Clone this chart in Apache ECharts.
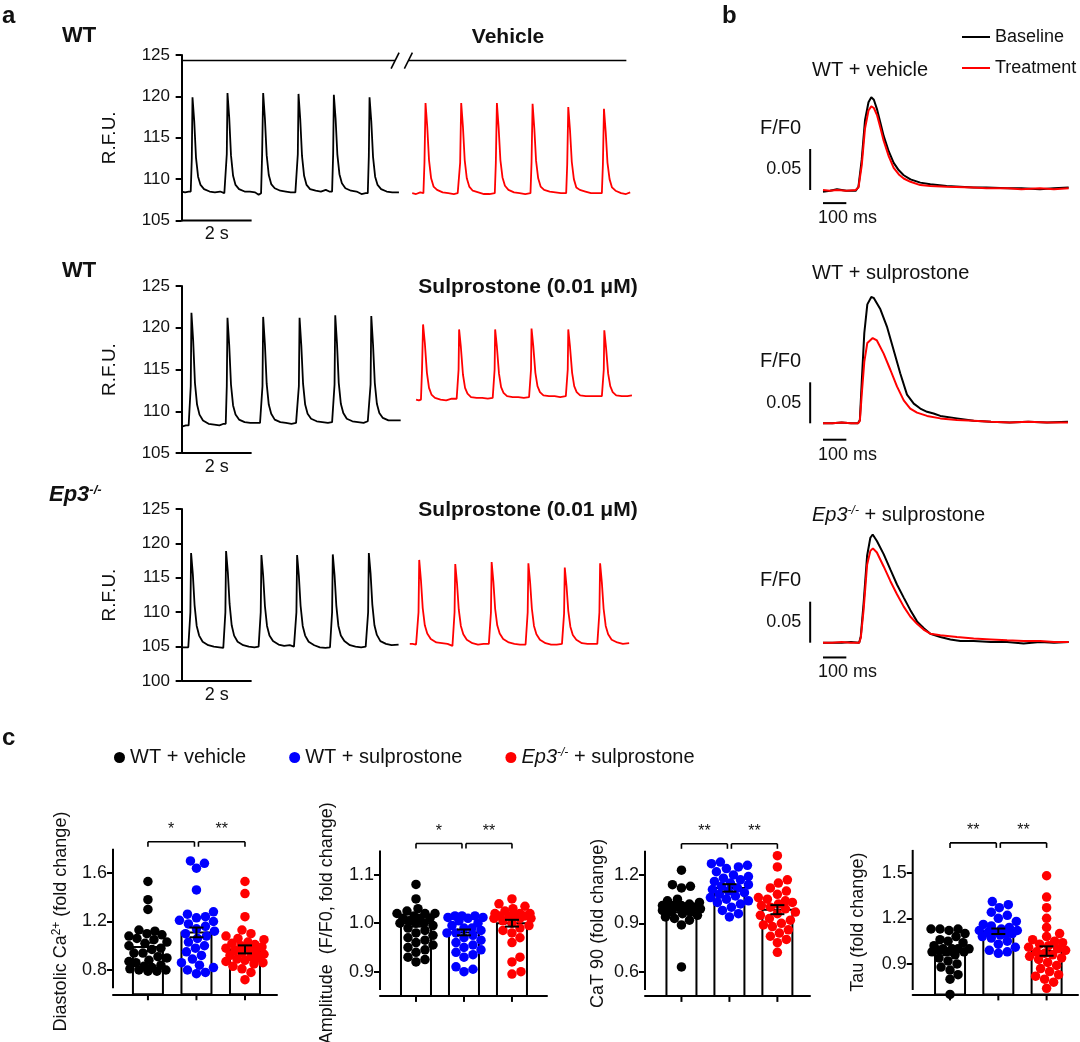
<!DOCTYPE html>
<html><head><meta charset="utf-8">
<script src="https://cdn.jsdelivr.net/npm/echarts@6.0.0/dist/echarts.min.js"></script>
<style>html,body{margin:0;padding:0;background:#fff}#c{width:1080px;height:1042px}</style>
</head><body><div id="c"></div><script>
// ---------- Panel a: raw traces [time s, R.F.U.] ----------
const A1K=[[0.00,108.5],[0.10,108.4],[0.20,108.5],[0.26,108.5],[0.29,112.5],[0.31,119.9],[0.36,117.0],[0.41,112.6],[0.47,110.3],[0.54,109.3],[0.64,108.8],[0.80,108.5],[0.95,108.4],[1.10,108.5],[1.22,108.3],[1.26,108.3],[1.29,113.0],[1.31,120.4],[1.36,117.4],[1.41,112.9],[1.47,110.4],[1.54,109.3],[1.64,108.8],[1.80,108.5],[1.95,108.5],[2.10,108.4],[2.20,108.1],[2.27,108.3],[2.30,113.0],[2.33,120.4],[2.38,117.3],[2.43,112.9],[2.49,110.5],[2.56,109.4],[2.66,108.9],[2.82,108.6],[2.98,108.5],[3.12,108.4],[3.25,108.4],[3.29,108.5],[3.32,113.0],[3.34,120.3],[3.39,117.2],[3.44,112.8],[3.50,110.4],[3.57,109.3],[3.67,108.8],[3.83,108.6],[3.98,108.5],[4.12,108.7],[4.22,108.5],[4.30,108.5],[4.33,113.0],[4.35,120.2],[4.40,117.3],[4.45,113.0],[4.51,110.6],[4.58,109.5],[4.68,108.9],[4.84,108.6],[5.00,108.5],[5.14,108.2],[5.26,108.3],[5.32,108.3],[5.35,112.8],[5.37,119.9],[5.42,117.0],[5.47,112.7],[5.53,110.3],[5.60,109.3],[5.70,108.8],[5.86,108.5],[6.02,108.4],[6.21,108.4]];
const A1R=[[6.59,108.3],[6.70,108.2],[6.82,108.4],[6.91,108.3],[6.94,112.0],[6.97,119.2],[7.02,116.3],[7.07,112.3],[7.13,110.1],[7.20,109.1],[7.30,108.7],[7.46,108.4],[7.62,108.3],[7.78,108.2],[7.89,108.3],[7.93,108.3],[7.96,112.0],[7.99,119.2],[8.04,116.3],[8.09,112.3],[8.15,110.1],[8.22,109.1],[8.32,108.6],[8.48,108.4],[8.64,108.2],[8.80,108.2],[8.95,108.3],[8.98,112.0],[9.01,119.2],[9.06,116.2],[9.11,112.3],[9.17,110.2],[9.24,109.2],[9.34,108.7],[9.50,108.4],[9.66,108.3],[9.82,108.2],[9.97,108.3],[10.00,112.0],[10.03,119.1],[10.08,116.1],[10.13,112.2],[10.19,110.1],[10.26,109.1],[10.36,108.7],[10.52,108.5],[10.68,108.4],[10.84,108.3],[10.99,108.3],[11.02,111.8],[11.05,118.7],[11.10,115.9],[11.15,112.1],[11.21,110.0],[11.28,109.0],[11.38,108.7],[11.54,108.5],[11.70,108.3],[11.86,108.3],[12.01,108.3],[12.04,111.8],[12.07,118.5],[12.12,115.7],[12.17,112.0],[12.23,110.0],[12.30,109.0],[12.40,108.6],[12.56,108.3],[12.70,108.2],[12.82,108.4]];
const A2K=[[0.03,108.2],[0.12,108.3],[0.20,108.3],[0.24,108.3],[0.26,113.0],[0.28,121.8],[0.33,118.4],[0.38,113.4],[0.44,110.8],[0.51,109.6],[0.61,108.9],[0.77,108.5],[0.93,108.4],[1.08,108.3],[1.20,108.5],[1.26,108.5],[1.29,113.0],[1.31,121.2],[1.36,117.9],[1.41,113.2],[1.47,110.7],[1.54,109.6],[1.64,109.0],[1.80,108.7],[1.96,108.6],[2.12,108.6],[2.24,108.6],[2.28,108.6],[2.31,113.0],[2.33,121.3],[2.38,118.0],[2.43,113.3],[2.49,110.8],[2.56,109.7],[2.66,109.0],[2.82,108.7],[2.98,108.6],[3.14,108.5],[3.27,108.6],[3.32,108.6],[3.35,113.0],[3.37,121.2],[3.42,117.9],[3.47,113.3],[3.53,110.8],[3.60,109.7],[3.70,109.1],[3.86,108.8],[4.02,108.7],[4.18,108.6],[4.30,108.7],[4.34,108.7],[4.37,113.2],[4.39,121.5],[4.44,118.1],[4.49,113.4],[4.55,110.9],[4.62,109.8],[4.72,109.1],[4.88,108.8],[5.04,108.7],[5.20,108.6],[5.32,108.8],[5.37,108.8],[5.40,113.2],[5.42,121.4],[5.47,118.0],[5.52,113.4],[5.58,110.9],[5.65,109.8],[5.75,109.2],[5.91,108.9],[6.07,108.9],[6.26,108.9]];
const A2R=[[6.70,111.4],[6.78,111.3],[6.84,111.4],[6.87,115.0],[6.90,120.4],[6.95,118.2],[7.01,114.6],[7.07,112.8],[7.14,112.0],[7.24,111.6],[7.40,111.4],[7.56,111.3],[7.72,111.5],[7.86,111.5],[7.90,111.6],[7.915,115.0],[7.93,119.8],[7.98,117.7],[8.04,114.4],[8.10,112.8],[8.17,112.1],[8.27,111.7],[8.43,111.6],[8.59,111.6],[8.75,111.5],[8.89,111.6],[8.93,111.7],[8.945,115.0],[8.96,119.8],[9.01,117.7],[9.07,114.5],[9.13,112.9],[9.20,112.2],[9.30,111.8],[9.46,111.7],[9.62,111.7],[9.78,111.6],[9.93,111.7],[9.97,111.8],[9.985,115.0],[10.00,119.9],[10.05,117.8],[10.11,114.6],[10.17,113.0],[10.24,112.3],[10.34,111.9],[10.50,111.8],[10.66,111.8],[10.82,111.7],[10.98,111.8],[11.02,111.8],[11.035,115.0],[11.05,119.8],[11.10,117.7],[11.16,114.6],[11.22,113.0],[11.29,112.3],[11.39,111.9],[11.55,111.8],[11.71,111.8],[11.87,111.8],[12.01,111.8],[12.05,111.9],[12.065,115.0],[12.08,119.7],[12.13,117.6],[12.19,114.5],[12.25,113.0],[12.32,112.3],[12.42,111.9],[12.58,111.8],[12.74,111.8],[12.87,111.9]];
const A3K=[[0.02,104.9],[0.10,104.9],[0.19,104.9],[0.23,105.0],[0.25,110.0],[0.27,118.6],[0.32,115.5],[0.37,111.0],[0.43,108.0],[0.50,106.6],[0.60,105.7],[0.76,105.2],[0.92,105.0],[1.08,104.9],[1.19,104.8],[1.23,104.9],[1.25,110.0],[1.27,118.9],[1.32,115.8],[1.37,111.2],[1.43,108.1],[1.50,106.6],[1.60,105.7],[1.76,105.2],[1.92,105.0],[2.08,104.9],[2.20,105.0],[2.24,105.0],[2.26,110.0],[2.28,118.3],[2.33,115.3],[2.38,110.9],[2.44,108.0],[2.51,106.6],[2.61,105.8],[2.77,105.3],[2.93,105.1],[3.09,105.2],[3.21,105.0],[3.26,105.0],[3.28,110.0],[3.30,118.3],[3.35,115.3],[3.40,110.9],[3.46,108.0],[3.53,106.6],[3.63,105.7],[3.79,105.2],[3.95,104.9],[4.11,104.8],[4.24,104.9],[4.28,104.9],[4.30,110.0],[4.32,118.4],[4.37,115.4],[4.42,111.0],[4.48,108.0],[4.55,106.6],[4.65,105.8],[4.81,105.2],[4.97,105.0],[5.13,104.9],[5.26,105.0],[5.31,105.0],[5.33,110.0],[5.35,118.6],[5.40,115.6],[5.45,111.1],[5.51,108.1],[5.58,106.7],[5.68,105.8],[5.84,105.4],[6.00,105.2],[6.20,105.3]];
const A3R=[[6.52,105.4],[6.60,105.4],[6.70,105.3],[6.74,105.4],[6.77,110.0],[6.79,117.6],[6.84,114.6],[6.89,110.6],[6.95,108.1],[7.02,106.9],[7.12,106.1],[7.28,105.6],[7.44,105.5],[7.60,105.4],[7.74,105.1],[7.78,105.2],[7.80,110.0],[7.82,117.0],[7.87,114.2],[7.92,110.4],[7.98,108.0],[8.05,106.8],[8.15,106.0],[8.31,105.5],[8.47,105.3],[8.63,105.4],[8.78,105.4],[8.82,105.4],[8.84,110.0],[8.86,117.3],[8.91,114.4],[8.96,110.5],[9.02,108.1],[9.09,106.9],[9.19,106.1],[9.35,105.6],[9.51,105.4],[9.67,105.3],[9.83,105.3],[9.87,105.3],[9.89,110.0],[9.91,117.1],[9.96,114.3],[10.01,110.5],[10.07,108.0],[10.14,106.8],[10.24,106.0],[10.40,105.5],[10.56,105.3],[10.72,105.3],[10.87,105.4],[10.91,105.4],[10.93,109.8],[10.95,116.5],[11.00,113.8],[11.05,110.2],[11.11,107.9],[11.18,106.7],[11.28,106.0],[11.44,105.5],[11.60,105.4],[11.76,105.4],[11.88,105.4],[11.92,105.4],[11.94,110.0],[11.96,117.1],[12.01,114.3],[12.06,110.5],[12.12,108.0],[12.19,106.8],[12.29,106.0],[12.45,105.6],[12.61,105.4],[12.79,105.5]];
const breakSegs=[[0,6.10],[6.48,12.71]];
const breakLevel=124.33;

// ---------- Panel b: averaged transients [time ms, F/F0] ----------
const B1K=[[0,0.998],[30,0.999],[60,1.001],[100,0.999],[140,0.999],[152,1.004],[166,1.037],[180,1.085],[195,1.107],[207,1.113],[218,1.110],[232,1.098],[246,1.082],[260,1.066],[282,1.047],[303,1.033],[325,1.024],[346,1.018],[375,1.013],[417,1.009],[460,1.007],[530,1.005],[645,1.003],[700,1.003],[790,1.002],[850,1.002],[930,1.001],[990,1.002],[1053,1.003]];
const B1R=[[0,1.000],[30,0.999],[60,1.000],[100,0.999],[140,1.000],[152,1.003],[166,1.030],[180,1.075],[195,1.097],[207,1.102],[218,1.100],[232,1.091],[246,1.076],[260,1.060],[282,1.041],[303,1.027],[325,1.019],[346,1.014],[375,1.010],[417,1.006],[460,1.005],[530,1.004],[645,1.003],[700,1.002],[790,1.002],[850,1.001],[930,1.002],[990,1.001],[1053,1.002]];
const B2K=[[0,1.000],[40,1.000],[80,1.001],[120,1.000],[150,1.000],[158,1.004],[166,1.050],[177,1.110],[190,1.145],[207,1.154],[217,1.153],[246,1.139],[274,1.118],[303,1.089],[331,1.061],[360,1.035],[389,1.024],[417,1.018],[446,1.014],[474,1.012],[503,1.009],[574,1.006],[646,1.003],[720,1.002],[800,1.001],[880,1.002],[960,1.001],[1050,1.002]];
const B2R=[[0,1.000],[40,1.000],[80,1.001],[120,1.000],[150,1.000],[158,1.003],[166,1.035],[177,1.075],[190,1.098],[213,1.104],[231,1.101],[260,1.085],[289,1.065],[317,1.045],[346,1.028],[374,1.018],[403,1.013],[446,1.009],[503,1.006],[574,1.004],[646,1.003],[720,1.002],[800,1.001],[880,1.002],[960,1.001],[1050,1.001]];
const B3K=[[0,1.000],[40,1.000],[80,1.000],[120,1.001],[155,1.000],[162,1.008],[174,1.048],[189,1.106],[203,1.128],[213,1.132],[231,1.124],[260,1.108],[289,1.089],[317,1.071],[346,1.055],[374,1.040],[403,1.026],[431,1.018],[460,1.011],[503,1.007],[546,1.004],[589,1.002],[646,1.002],[720,1.001],[789,1.001],[860,0.999],[930,1.001],[990,1.000],[1053,1.001]];
const B3R=[[0,1.000],[40,1.000],[80,1.001],[120,1.000],[155,1.000],[162,1.006],[174,1.040],[189,1.095],[203,1.112],[214,1.115],[231,1.110],[260,1.093],[289,1.075],[317,1.059],[346,1.044],[374,1.032],[403,1.023],[431,1.016],[460,1.011],[503,1.009],[574,1.007],[646,1.005],[720,1.004],[789,1.003],[860,1.002],[931,1.002],[990,1.001],[1053,1.001]];

// ---------- Panel c: per-cell fold changes ----------
const groups=['WT + vehicle','WT + sulprostone','Ep3-/- + sulprostone'];
const diaK=[1.53,1.38,1.30,1.13,1.12,1.10,1.09,1.08,1.06,1.05,1.03,1.02,1.00,0.98,0.97,0.94,0.94,0.91,0.90,0.88,0.87,0.86,0.84,0.83,0.82,0.81,0.80,0.80,0.79,0.79];
const diaB=[1.70,1.68,1.64,1.46,1.28,1.26,1.24,1.23,1.21,1.20,1.18,1.16,1.14,1.12,1.10,1.08,1.06,1.03,1.00,0.98,0.95,0.92,0.89,0.86,0.84,0.82,0.80,0.78,0.77];
const diaR=[1.53,1.43,1.24,1.13,1.10,1.08,1.06,1.05,1.03,1.02,1.01,1.00,0.99,0.98,0.97,0.96,0.95,0.94,0.93,0.92,0.91,0.90,0.89,0.88,0.87,0.86,0.85,0.83,0.81,0.78,0.72];
const diaMean=[0.99,1.11,0.97], diaSem=[0.035,0.04,0.033];
const ampK=[1.08,1.05,1.03,1.025,1.02,1.02,1.015,1.01,1.01,1.005,1.0,1.0,0.995,0.99,0.985,0.98,0.975,0.97,0.965,0.96,0.955,0.95,0.945,0.94,0.93,0.925,0.92,1.02,1.01,1.0];
const ampB=[1.015,1.015,1.015,1.012,1.012,1.01,1.005,1.0,0.995,0.99,0.99,0.985,0.98,0.98,0.975,0.97,0.965,0.96,0.955,0.95,0.945,0.94,0.935,0.93,0.91,0.905,0.90];
const ampR=[1.05,1.04,1.035,1.03,1.025,1.02,1.02,1.02,1.015,1.015,1.015,1.015,1.01,1.01,1.01,1.005,1.0,0.995,0.99,0.985,0.98,0.97,0.96,0.93,0.92,0.90,0.895];
const ampMean=[1.0,0.981,1.0], ampSem=[0.007,0.006,0.007];
const catK=[1.23,1.14,1.13,1.12,1.05,1.04,1.03,1.02,1.01,1.01,1.01,1.0,1.0,1.0,1.0,0.99,0.98,0.97,0.97,0.96,0.95,0.94,0.93,0.92,0.89,0.63];
const catB=[1.28,1.27,1.26,1.25,1.24,1.22,1.20,1.19,1.18,1.17,1.16,1.15,1.14,1.13,1.12,1.11,1.10,1.09,1.08,1.07,1.06,1.05,1.04,1.03,1.02,1.00,0.98,0.96,0.94];
const catR=[1.32,1.25,1.17,1.15,1.12,1.10,1.08,1.06,1.05,1.04,1.03,1.02,1.01,1.00,0.99,0.97,0.96,0.95,0.93,0.92,0.90,0.89,0.88,0.86,0.84,0.82,0.80,0.78,0.72];
const catMean=[0.99,1.12,0.985], catSem=[0.022,0.023,0.028];
const tauK=[1.13,1.13,1.13,1.12,1.10,1.08,1.06,1.05,1.04,1.02,1.00,1.00,1.00,1.00,0.99,0.98,0.98,0.98,0.96,0.94,0.92,0.90,0.88,0.86,0.83,0.80,0.70];
const tauB=[1.31,1.29,1.27,1.24,1.22,1.20,1.18,1.16,1.15,1.14,1.13,1.12,1.12,1.11,1.11,1.10,1.10,1.09,1.08,1.07,1.05,1.03,1.01,0.99,0.98,0.97];
const tauR=[1.48,1.34,1.27,1.20,1.14,1.10,1.08,1.06,1.05,1.04,1.03,1.02,1.01,1.00,0.99,0.98,0.97,0.96,0.95,0.94,0.93,0.91,0.89,0.87,0.85,0.83,0.82,0.80,0.78,0.74];
const tauMean=[0.98,1.115,0.985], tauSem=[0.02,0.018,0.031];
const diaTicks=[0.8,1.2,1.6], ampTicks=[0.9,1.0,1.1], catTicks=[0.6,0.9,1.2], tauTicks=[0.9,1.2,1.5];
const sigDia=['*','**'], sigAmp=['*','**'], sigCat=['**','**'], sigTau=['**','**'];

// ---------- build ----------
const FONT="'Liberation Sans', Arial, Helvetica, sans-serif";
const TXT='#111';
const KCOL='#000', RCOL='#ff0000', BCOL='#0000ff';
const grid=[], xAxis=[], yAxis=[], series=[], graphic=[];
function addGrid(g, xa, ya){grid.push(Object.assign({outerBoundsMode:'none',containLabel:false},g));const i=grid.length-1;xAxis.push(Object.assign({gridIndex:i},xa));yAxis.push(Object.assign({gridIndex:i},ya));return i;}
function L(p1,p2,w,c){return {type:'line',shape:{x1:p1[0],y1:p1[1],x2:p2[0],y2:p2[1]},style:{stroke:c||'#000',lineWidth:w||2}};}
function T(x,y,text,st){return {type:'text',x:x,y:y,style:Object.assign({text:text,fill:TXT,font:'17px '+FONT,align:'center',verticalAlign:'middle'},st||{})};}
function custom(gi,draw,z){return {type:'custom',xAxisIndex:gi,yAxisIndex:gi,coordinateSystem:'cartesian2d',data:[[0,0]],silent:true,z:z||5,clip:false,
  renderItem:function(params,api){return {type:'group',children:draw(api)};}};}
function gtext(x,y,text,st,rich){const e={type:'text',x:x,y:y,style:Object.assign({text:text,fill:TXT,font:'17px '+FONT,align:'left',verticalAlign:'middle'},st||{})};if(rich)e.style.rich=rich;graphic.push(e);}

// Panel a
const aRows=[{top:55,bottom:220.5,min:105,max:125,k:A1K,r:A1R},{top:286,bottom:453,min:105,max:125,k:A2K,r:A2R},{top:509,bottom:681,min:100,max:125,k:A3K,r:A3R}];
const A_LEFT=175,A_RIGHT=633;
aRows.forEach((row,ri)=>{
  const gi=addGrid({left:A_LEFT,top:row.top,width:A_RIGHT-A_LEFT,height:row.bottom-row.top},
    {type:'value',min:-0.19,max:12.9,show:false},
    {type:'value',min:row.min,max:row.max,interval:5,name:'R.F.U.',nameLocation:'middle',nameGap:56,nameTextStyle:{fontSize:19,color:TXT,fontFamily:FONT},
     axisLine:{show:true,lineStyle:{color:'#000',width:2}},axisTick:{show:true,length:6,lineStyle:{color:'#000',width:2}},
     axisLabel:{fontSize:17,color:TXT,margin:5,fontFamily:FONT},splitLine:{show:false}});
  series.push({type:'line',name:'a'+ri+'k',xAxisIndex:gi,yAxisIndex:gi,data:row.k,symbol:'none',lineStyle:{color:KCOL,width:1.8},z:3});
  series.push({type:'line',name:'a'+ri+'r',xAxisIndex:gi,yAxisIndex:gi,data:row.r,symbol:'none',lineStyle:{color:RCOL,width:1.8},z:3});
  series.push(custom(gi,api=>{
    const p0=api.coord([0,row.min]),p2=api.coord([2,row.min]),pm=api.coord([1,row.min]);
    const ch=[L(p0,p2,2),T(pm[0],pm[1]+14,'2 s',{font:'18px '+FONT})];
    if(ri===0){
      breakSegs.forEach(s=>ch.push(L(api.coord([s[0],breakLevel]),api.coord([s[1],breakLevel]),1.6)));
      [breakSegs[0][1],breakSegs[1][0]].forEach(t=>{const c=api.coord([t,breakLevel]);ch.push(L([c[0]-4,c[1]+8],[c[0]+4,c[1]-8],1.6));});
    }
    return ch;
  }));
});
// Panel b
const B_LEFT=809,B_W=261.3,PXF=820;
const bRows=[{base:190,min:0.975,max:1.125,k:B1K,r:B1R,hbar:0.984},{base:423.3,min:0.975,max:1.165,k:B2K,r:B2R,hbar:0.980},{base:642.7,min:0.975,max:1.14,k:B3K,r:B3R,hbar:0.982}];
bRows.forEach((row,ri)=>{
  const gi=addGrid({left:B_LEFT,top:row.base-(row.max-1)*PXF,width:B_W,height:(row.max-row.min)*PXF},
    {type:'value',min:-60,max:1060,show:false},{type:'value',min:row.min,max:row.max,show:false});
  series.push({type:'line',name:'Baseline',xAxisIndex:gi,yAxisIndex:gi,data:row.k,symbol:'none',lineStyle:{color:KCOL,width:2},itemStyle:{color:KCOL},z:3});
  series.push({type:'line',name:'Treatment',xAxisIndex:gi,yAxisIndex:gi,data:row.r,symbol:'none',lineStyle:{color:RCOL,width:2},itemStyle:{color:RCOL},z:4});
  series.push(custom(gi,api=>{
    const v0=api.coord([-55,1.0]),v1=api.coord([-55,1.05]),vm=api.coord([-55,1.025]);
    const h0=api.coord([0,row.hbar]),h1=api.coord([100,row.hbar]);
    return [L(v0,v1,2),L(h0,h1,2),
      T(v0[0]-9,vm[1],'0.05',{align:'right',font:'18px '+FONT}),
      T(v0[0]-9,v1[1]-21,'F/F0',{align:'right',font:'20px '+FONT}),
      T(h0[0]-5,h0[1]+15,'100 ms',{align:'left',font:'18px '+FONT})];
  }));
});
// Panel c
const cPlots=[
 {vals:[diaK,diaB,diaR],mean:diaMean,sem:diaSem,ticks:diaTicks,sig:sigDia,left:113,right:277,top:848.75,bottom:994.25,ymin:0.6,ymax:1.8,yLow:0.649,xmin:0.28,xmax:3.66,name:'Diastolic Ca{s|2+} (fold change)',gap:42},
 {vals:[ampK,ampB,ampR],mean:ampMean,sem:ampSem,ticks:ampTicks,sig:sigAmp,left:380,right:547,top:850.5,bottom:995.9,ymin:0.85,ymax:1.15,yLow:0.862,xmin:0.25,xmax:3.73,name:'Amplitude  (F/F0, fold change)',gap:44},
 {vals:[catK,catB,catR],mean:catMean,sem:catSem,ticks:catTicks,sig:sigCat,left:645,right:810,top:850.8,bottom:995.9,ymin:0.45,ymax:1.35,yLow:0.486,xmin:0.24,xmax:3.68,name:'CaT 90 (fold change)',gap:38},
 {vals:[tauK,tauB,tauR],mean:tauMean,sem:tauSem,ticks:tauTicks,sig:sigTau,left:912.7,right:1078,top:849.9,bottom:994.4,ymin:0.7,ymax:1.65,yLow:0.729,xmin:0.227,xmax:3.65,name:'Tau (fold change)',gap:46}];
const gcol=[KCOL,BCOL,RCOL];
function swarm(vals,pxY,pxX,diam,maxOff){
  const idx=vals.map((v,i)=>i).sort((a,b)=>vals[a]-vals[b]);
  const placed=[],offs=new Array(vals.length),cands=[0];
  for(let d=1;d<=maxOff;d++){cands.push(d,-d);}
  idx.forEach(i=>{const y=vals[i]*pxY;let best=0,bs=-1;
    for(const c of cands){let m=Infinity;for(const p of placed){const dx=c-p[0],dy=y-p[1];const dd=Math.sqrt(dx*dx+dy*dy);if(dd<m)m=dd;}
      if(m>=diam){best=c;break;} if(m>bs){bs=m;best=c;}}
    placed.push([best,y]);offs[i]=best/pxX;});
  return offs;
}
cPlots.forEach((p,pi)=>{
  const gi=addGrid({left:p.left,top:p.top,width:p.right-p.left,height:p.bottom-p.top},
    {type:'value',min:p.xmin,max:p.xmax,axisLine:{show:true,lineStyle:{color:'#000',width:2}},axisTick:{show:false},axisLabel:{show:false},splitLine:{show:false}},
    {type:'value',min:p.ymin,max:p.ymax,name:p.name,nameLocation:'middle',nameGap:p.gap,
     nameTextStyle:{fontSize:18,color:TXT,fontFamily:FONT,rich:{s:{fontSize:12,color:TXT,fontFamily:FONT,verticalAlign:'top',padding:[0,0,8,0]}}},
     axisLine:{show:false},axisTick:{show:true,length:6,customValues:p.ticks,lineStyle:{color:'#000',width:2}},
     axisLabel:{customValues:p.ticks,fontSize:18,color:TXT,fontFamily:FONT,margin:6,formatter:v=>v.toFixed(1)},splitLine:{show:false}});
  const pxY=(p.bottom-p.top)/(p.ymax-p.ymin), pxX=(p.right-p.left)/(p.xmax-p.xmin);
  series.push(custom(gi,api=>{
    const ch=[L(api.coord([p.xmin,p.yLow]),api.coord([p.xmin,p.ymax]),2)];
    p.mean.forEach((m,i)=>{const c=api.coord([i+1,m]),b=api.coord([i+1,p.ymin]);
      ch.push({type:'rect',shape:{x:c[0]-15,y:c[1],width:30,height:b[1]-c[1]},style:{fill:'#fff',stroke:'#000',lineWidth:2}});
      ch.push(L([b[0],b[1]],[b[0],b[1]+6],2));});
    return ch;
  },1));
  p.vals.forEach((vals,g)=>{
    const offs=swarm(vals,pxY,pxX,9,19);
    series.push({type:'scatter',name:groups[g],xAxisIndex:gi,yAxisIndex:gi,data:vals.map((v,i)=>[g+1+offs[i],v]),
      symbol:'circle',symbolSize:9.5,itemStyle:{color:gcol[g],opacity:1},z:2});
  });
  series.push(custom(gi,api=>{
    const ch=[];
    p.mean.forEach((m,i)=>{const a=api.coord([i+1,m-p.sem[i]]),b=api.coord([i+1,m+p.sem[i]]);
      ch.push(L(a,b,2),L([a[0]-7,a[1]],[a[0]+7,a[1]],2),L([b[0]-7,b[1]],[b[0]+7,b[1]],2));});
    const yb=api.coord([1,p.ymax])[1]-7;
    const c1=api.coord([1,p.ymax])[0],c2=api.coord([2,p.ymax])[0],c3=api.coord([3,p.ymax])[0];
    [[c1,c2-2,p.sig[0]],[c2+2,c3,p.sig[1]]].forEach(s=>{
      ch.push(L([s[0],yb+5],[s[0],yb],1.6),L([s[0],yb],[s[1],yb],1.6),L([s[1],yb],[s[1],yb+5],1.6));
      ch.push(T((s[0]+s[1])/2,yb-12,s[2],{font:'16px '+FONT}));
    });
    return ch;
  },3));
});

// texts
gtext(2,16,'a',{font:'bold 24px '+FONT});
gtext(722,16,'b',{font:'bold 24px '+FONT});
gtext(2,738,'c',{font:'bold 24px '+FONT});
gtext(62,36,'WT',{font:'bold 22px '+FONT});
gtext(62,271,'WT',{font:'bold 22px '+FONT});
gtext(49,495,'{i|Ep3}{s|-/-}',{},{i:{font:'italic bold 22px '+FONT,fill:TXT},s:{font:'italic bold 13px '+FONT,fill:TXT,verticalAlign:'top',padding:[0,0,10,0]}});
gtext(508,37,'Vehicle',{font:'bold 21px '+FONT,align:'center'});
gtext(528,287,'Sulprostone (0.01 \u03bcM)',{font:'bold 21px '+FONT,align:'center'});
gtext(528,510,'Sulprostone (0.01 \u03bcM)',{font:'bold 21px '+FONT,align:'center'});
gtext(812,70,'WT + vehicle',{font:'20px '+FONT});
gtext(812,273,'WT + sulprostone',{font:'20px '+FONT});
gtext(812,515,'{i|Ep3}{s|-/-}{n| + sulprostone}',{},{i:{font:'italic 20px '+FONT,fill:TXT},s:{font:'italic 12px '+FONT,fill:TXT,verticalAlign:'top',padding:[0,0,9,0]},n:{font:'20px '+FONT,fill:TXT}});

const option={animation:false,backgroundColor:'#fff',textStyle:{fontFamily:FONT},
  grid:grid,xAxis:xAxis,yAxis:yAxis,series:series,graphic:graphic,
  legend:[
    {data:['Baseline','Treatment'],orient:'vertical',left:957,top:23,icon:'rect',itemWidth:28,itemHeight:2,itemGap:13,selectedMode:false,
     textStyle:{fontSize:18,color:TXT,fontFamily:FONT}},
    {data:groups,left:109,top:742,icon:'circle',itemWidth:11,itemHeight:11,itemGap:43,selectedMode:false,
     textStyle:{fontSize:20,color:TXT,fontFamily:FONT,rich:{i:{fontStyle:'italic',fontSize:20,color:TXT,fontFamily:FONT},s:{fontStyle:'italic',fontSize:12,color:TXT,fontFamily:FONT,verticalAlign:'top',padding:[0,0,9,0]},n:{fontSize:20,color:TXT,fontFamily:FONT}}},
     formatter:n=>n.indexOf('Ep3')===0?'{i|Ep3}{s|-/-}{n| + sulprostone}':'{n|'+n+'}'}
  ]};
const chart=echarts.init(document.getElementById('c'),null,{renderer:'canvas'});
chart.setOption(option);
</script></body></html>
